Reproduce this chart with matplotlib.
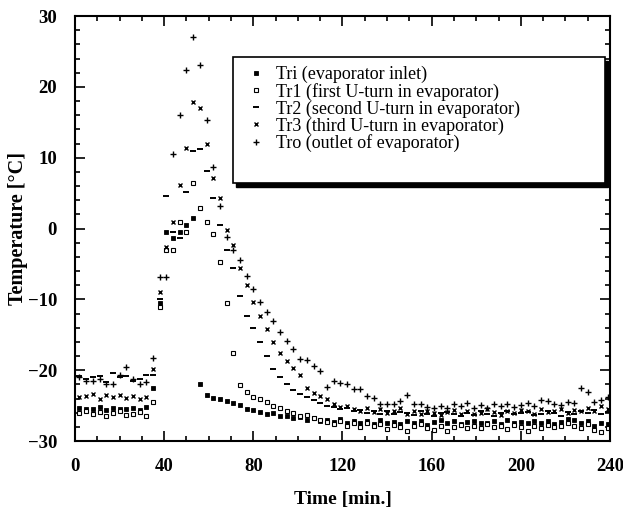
import matplotlib
matplotlib.use('Agg')
import matplotlib.pyplot as plt
from matplotlib.patches import Rectangle
import numpy as np

# time axis [min], one reading every 3 min
time_min = np.arange(2, 240, 3)

# readings [deg C]
tri = [-25.3, -25.5, -25.4, -25.2, -25.6, -25.3, -25.5, -25.4, -25.3, -25.6, -25.2,
       -22.5, -10.5, -0.5, -1.3, -0.5, 0.5, 1.5, -22.0, -23.5, -23.9, -24.0, -24.4,
       -24.6, -24.9, -25.4, -25.6, -25.9, -26.2, -26.0, -26.5, -26.4, -26.8, -26.6,
       -27.0, -26.8, -27.2, -27.0,
       -27.3, -26.9, -27.4, -27.1, -27.5, -27.2, -27.6, -27.0, -27.4, -27.3,
       -27.6, -27.1, -27.5, -27.2, -27.7, -27.3, -27.0, -27.5, -27.2, -27.6,
       -27.3, -27.1, -27.5, -27.4, -27.2, -27.6, -27.0, -27.4, -27.3, -27.5,
       -27.1, -27.4, -27.2, -27.6, -27.3, -26.9, -27.0, -27.5, -27.2, -27.8,
       -27.4, -27.6]

tr1 = [-26.0, -25.8, -26.2, -25.9, -26.4, -26.0, -25.8, -26.3, -26.1, -25.9, -26.5,
       -24.5, -11.0, -3.0, -3.0, 0.9, -0.5, 6.4, 2.9, 0.9, -0.8, -4.7, -10.5,
       -17.6, -22.1, -23.1, -23.8, -24.1, -24.5, -25.0, -25.3, -25.8, -26.0, -26.4,
       -26.3, -26.8, -27.0, -27.3,
       -27.6, -27.2, -27.8, -27.5, -28.0, -27.4, -27.9, -27.6, -28.3, -27.7,
       -28.0, -28.5, -27.8, -27.6, -28.1, -28.4, -27.9, -28.6, -28.0, -27.7,
       -28.2, -27.9, -28.1, -27.6, -28.0, -27.8, -28.3, -27.7, -28.0, -28.6,
       -27.9, -28.1, -27.7, -28.0, -27.8, -27.5, -27.9, -28.2, -27.6, -28.4,
       -28.7, -28.1]

tr2 = [-20.8, -21.2, -20.9, -20.8, -21.6, -20.4, -21.0, -20.8, -21.5, -21.2, -20.6,
       -20.7, -10.0, 4.6, -0.5, -1.3, 5.2, 11.0, 11.2, 8.2, 4.3, 0.5, -3.0,
       -5.6, -9.5, -12.4, -14.0, -16.0, -18.0, -19.8, -21.0, -22.0, -22.8, -23.4,
       -23.8, -24.2, -24.6, -25.0,
       -25.2, -25.5, -25.3, -25.8, -25.6, -26.0, -25.7, -26.1, -25.8, -26.2,
       -25.9, -26.0, -26.3, -25.8, -26.1, -26.4, -26.0, -25.9, -26.2, -26.5,
       -26.0, -26.3, -25.8, -26.1, -26.4, -26.0, -25.7, -26.2, -26.0, -25.9,
       -26.3, -26.1, -25.8, -26.0, -26.4, -25.9, -26.1, -25.7, -26.0, -25.6,
       -26.2, -25.9]

tr3 = [-23.8, -23.6, -23.4, -24.0, -23.5, -23.7, -23.5, -23.9, -23.6, -24.1, -23.7,
       -19.8, -9.0, -2.6, 1.0, 6.2, 11.4, 17.9, 17.0, 12.0, 7.1, 4.3, -0.2,
       -2.3, -5.6, -8.0, -10.4, -12.4, -14.2, -16.0, -17.6, -18.7, -19.7, -20.7,
       -22.5, -23.2, -23.6, -24.0,
       -24.8, -25.2, -25.0, -25.5, -25.7, -25.3, -25.9, -25.5, -26.0, -25.7,
       -25.3, -26.1, -25.8, -26.2, -25.7, -26.0, -26.3, -25.9, -25.6, -26.1,
       -25.8, -26.2, -26.0, -25.5, -25.9, -26.3, -25.7, -26.0, -25.6, -25.8,
       -26.1, -25.5, -25.9, -25.7, -25.4, -26.0, -25.6, -25.8, -25.3, -25.7,
       -25.1, -25.5]

tro = [-21.0, -21.5, -21.5, -21.2, -22.0, -22.0, -20.6, -19.6, -21.2, -22.0, -21.6,
       -18.3, -6.8, -6.8, 10.5, 16.0, 22.4, 27.0, 23.1, 15.3, 8.7, 3.2, -1.2,
       -3.0, -4.4, -6.7, -8.5, -10.3, -11.8, -13.0, -14.6, -15.8, -17.0, -18.4,
       -18.6, -19.4, -20.1, -22.4,
       -21.5, -21.8, -22.0, -22.7, -22.7, -23.6, -23.9, -24.8, -24.8, -24.8,
       -24.4, -23.5, -24.7, -24.7, -25.2, -25.3, -25.0, -25.3, -24.8, -25.1,
       -24.6, -25.3, -24.9, -25.3, -24.7, -25.1, -24.8, -25.2, -24.9, -24.6,
       -25.0, -24.2, -24.3, -24.7, -24.9, -24.5, -24.6, -22.5, -23.1, -24.5,
       -24.2, -23.8]

labels = ['Tri (evaporator inlet)',
          'Tr1 (first U-turn in evaporator)',
          'Tr2 (second U-turn in evaporator)',
          'Tr3 (third U-turn in evaporator)',
          'Tro (outlet of evaporator)']

plt.rcParams['font.family'] = ['Liberation Serif', 'DejaVu Serif']

fig = plt.figure(figsize=(6.23, 5.19), dpi=100)
ax = fig.add_axes([0.1204, 0.150, 0.8587, 0.819])

ax.plot(time_min, tri, 's', ms=2.2, color='black', mew=0.6, label=labels[0])
ax.plot(time_min, tr1, 's', ms=3.2, mfc='white', mec='black', mew=0.8, label=labels[1])
ax.plot(time_min, tr2, '_', ms=4.5, color='black', mew=1.4, label=labels[2])
ax.plot(time_min, tr3, 'x', ms=3.0, color='black', mew=1.0, label=labels[3])
ax.plot(time_min, tro, '+', ms=5.0, color='black', mew=1.0, label=labels[4])

ax.set_xlim(0, 240)
ax.set_ylim(-30, 30)
ax.set_xticks([0, 40, 80, 120, 160, 200, 240])
ax.set_yticks([-30, -20, -10, 0, 10, 20, 30])
ax.set_xticks(np.arange(0, 241, 10), minor=True)
ax.set_yticks(np.arange(-30, 31, 2), minor=True)
ax.tick_params(which='both', direction='in', top=True, right=True, width=1.2)
ax.tick_params(which='major', length=7, labelsize=13.5)
ax.tick_params(axis='x', which='major', pad=12)
ax.tick_params(axis='y', which='major', pad=13)
ax.tick_params(which='minor', length=3.5)
for lab in ax.get_xticklabels() + ax.get_yticklabels():
    lab.set_fontweight('bold')
for sp in ax.spines.values():
    sp.set_linewidth(1.5)

ax.set_xlabel('Time [min.]', fontsize=14, fontweight='bold', labelpad=12)
ax.set_ylabel('Temperature [\u00b0C]', fontsize=14.5, fontweight='bold', labelpad=0)

# legend box with a solid drop shadow, drawn behind a frameless legend
box_x0, box_y0, box_w, box_h = 0.2953, 0.607, 0.6954, 0.2965
ax.add_patch(Rectangle((box_x0 + 0.006, box_y0 - 0.008), box_w, box_h,
                       transform=ax.transAxes, facecolor='black', edgecolor='black',
                       zorder=5))
ax.add_patch(Rectangle((box_x0, box_y0), box_w, box_h, transform=ax.transAxes,
                       facecolor='white', edgecolor='black', lw=1.2, zorder=6))

leg = ax.legend(loc='upper left', bbox_to_anchor=(0.322, 0.883), borderaxespad=0,
                fontsize=13, frameon=False, handlelength=1.0, handletextpad=0.6,
                labelspacing=-0.02, borderpad=0.0)
leg.set_zorder(7)

fig.savefig('out.png', dpi=100)
